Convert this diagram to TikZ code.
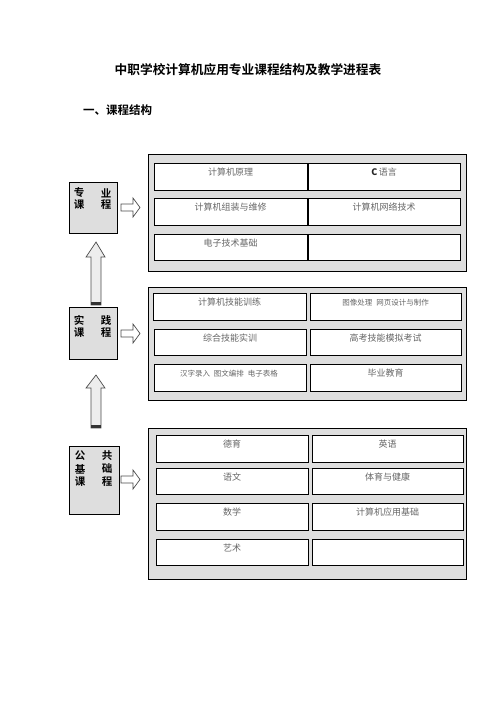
\documentclass[tikz,border=0pt]{standalone}
\usepackage{fontspec}
\setmainfont{Liberation Sans}
\newfontfamily\cjk{Noto Sans CJK SC}
\newfontfamily\cjkb{Noto Sans CJK SC Bold}
\begin{document}
\begin{tikzpicture}[x=1pt,y=-1pt,
  outerbox/.style={draw=black, line width=0.8pt, fill=black!13},
  cell/.style={draw=black, line width=0.8pt, fill=white},
  celltext/.style={anchor=north, inner sep=0pt, text=black!60, font=\cjk\fontsize{9}{10}\selectfont},
  smalltext/.style={celltext, font=\cjk\fontsize{7.5}{9}\selectfont},
  labelbox/.style={draw=black, line width=0.8pt, fill=black!13},
  labeltext/.style={inner sep=0pt, font=\cjkb\fontsize{10.5}{12}\selectfont},
  rarrow/.style={draw=black!70, line width=0.7pt, fill=white},
  uarrow/.style={draw=black!70, line width=0.7pt, fill=black!7}]
\useasboundingbox (0,0) rectangle (496,702);

% titles
\node[inner sep=0pt, font=\cjkb\fontsize{12.7}{14}\selectfont] (title) at (248,70) {中职学校计算机应用专业课程结构及教学进程表};
\node[inner sep=0pt, anchor=west, font=\cjkb\fontsize{11.5}{13}\selectfont] (sec) at (83,110) {一、课程结构};

% ---------- group 1
\draw[outerbox] (148,154) rectangle (466,271);
\draw[cell] (154,163) rectangle (307,190);
\draw[cell] (308,163) rectangle (460,190);
\draw[cell] (154,198) rectangle (307,225);
\draw[cell] (308,198) rectangle (460,225);
\draw[cell] (154,234) rectangle (307,260);
\draw[cell] (308,234) rectangle (460,260);
\node[celltext] (a1) at (230.5,168) {计算机原理};
\node[celltext] (a2) at (384,168) {\textcolor{black!85}{\textbf{C}}\,语言};
\node[celltext] (a3) at (230.5,203) {计算机组装与维修};
\node[celltext] (a4) at (384,203) {计算机网络技术};
\node[celltext] (a5) at (230.5,239) {电子技术基础};

\draw[labelbox] (69,182) rectangle (117,233);
\node[labeltext] (l1a) at (79,193) {专};
\node[labeltext] (l1b) at (106,193) {业};
\node[labeltext] (l1c) at (79,205) {课};
\node[labeltext] (l1d) at (106,205) {程};

\draw[rarrow] (121,204) -- (133,204) -- (133,198) -- (140,207.5) -- (133,217) -- (133,211) -- (121,211) -- cycle;

% up arrow 1
\draw[uarrow] (96,242) -- (105,257) -- (101,257) -- (101,305) -- (91,305) -- (91,257) -- (86,257) -- cycle;
\fill[black!80] (91.3,302) rectangle (100.7,305);

% ---------- group 2
\draw[outerbox] (148,287) rectangle (466,400);
\draw[cell] (153,293) rectangle (306,320);
\draw[cell] (310,293) rectangle (461,320);
\draw[cell] (154,329) rectangle (306,355);
\draw[cell] (310,329) rectangle (461,355);
\draw[cell] (154,364) rectangle (306,391);
\draw[cell] (310,364) rectangle (461,391);
\node[celltext] (b1) at (229.5,298) {计算机技能训练};
\node[smalltext] (b2) at (385.5,299) {图像处理\hspace{4pt}网页设计与制作};
\node[celltext] (b3) at (230,334) {综合技能实训};
\node[celltext] (b4) at (385.5,334) {高考技能模拟考试};
\node[smalltext] (b5) at (229,370) {汉字录入\hspace{4pt}图文编排\hspace{4pt}电子表格};
\node[celltext] (b6) at (385.5,369) {毕业教育};

\draw[labelbox] (69,307) rectangle (117,359);
\node[labeltext] (l2a) at (79,320) {实};
\node[labeltext] (l2b) at (106,320) {践};
\node[labeltext] (l2c) at (79,333) {课};
\node[labeltext] (l2d) at (106,333) {程};

\draw[rarrow] (121,330) -- (133,330) -- (133,324) -- (140,333.5) -- (133,343) -- (133,337) -- (121,337) -- cycle;

% up arrow 2
\draw[uarrow] (96,375) -- (105,388) -- (101,388) -- (101,428) -- (91,428) -- (91,388) -- (86,388) -- cycle;
\fill[black!80] (91.3,425) rectangle (100.7,428);

% ---------- group 3
\draw[outerbox] (148,428) rectangle (466,579);
\draw[cell] (156,435) rectangle (308,462);
\draw[cell] (312,435) rectangle (463,462);
\draw[cell] (156,468) rectangle (308,494);
\draw[cell] (312,468) rectangle (463,494);
\draw[cell] (156,503) rectangle (308,530);
\draw[cell] (312,503) rectangle (463,530);
\draw[cell] (156,539) rectangle (308,565);
\draw[cell] (312,539) rectangle (463,565);
\node[celltext] (c1) at (232,440) {德育};
\node[celltext] (c2) at (387.5,440) {英语};
\node[celltext] (c3) at (232,473) {语文};
\node[celltext] (c4) at (387.5,473) {体育与健康};
\node[celltext] (c5) at (232,508) {数学};
\node[celltext] (c6) at (387.5,508) {计算机应用基础};
\node[celltext] (c7) at (232,544) {艺术};

\draw[labelbox] (69,446) rectangle (119,514);
\node[labeltext] (l3a) at (80,456) {公};
\node[labeltext] (l3b) at (107,456) {共};
\node[labeltext] (l3c) at (80,469) {基};
\node[labeltext] (l3d) at (107,469) {础};
\node[labeltext] (l3e) at (80,482) {课};
\node[labeltext] (l3f) at (107,482) {程};

\draw[rarrow] (121,476) -- (133,476) -- (133,470) -- (140,479.5) -- (133,489) -- (133,483) -- (121,483) -- cycle;
\end{tikzpicture}
\end{document}
